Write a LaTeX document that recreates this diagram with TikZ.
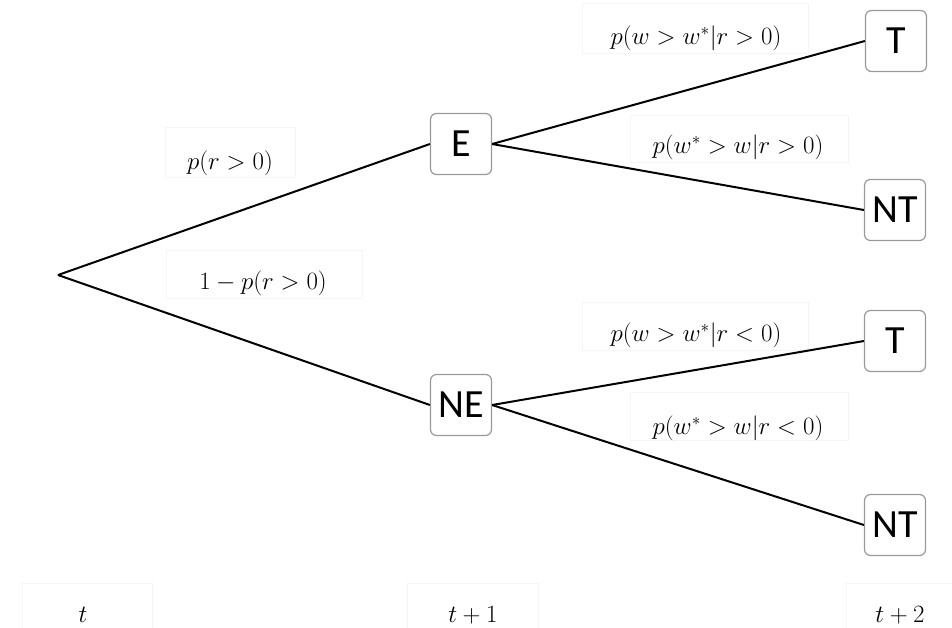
\documentclass[tikz,border=0pt]{standalone}
\usepackage{fontspec}
\newfontfamily\boxfont{Carlito}
\begin{document}
\begin{tikzpicture}[x=1pt,y=-1pt,
  state/.style={draw=black!40,line width=1.2pt,rounded corners=6pt,fill=white,
    minimum width=61pt,minimum height=61pt,inner sep=0pt,
    font=\boxfont\fontsize{40}{44}\selectfont},
  branch/.style={line width=2pt,black},
  lbl/.style={inner sep=0pt,font=\fontsize{23.5}{28}\selectfont},
  faint/.style={draw=black!4,line width=0.8pt}]
\useasboundingbox (0,0) rectangle (952,627);
% faint label frames
\draw[faint] (165,127) rectangle (295,177);
\draw[faint] (166,250) rectangle (362,298);
\draw[faint] (582,3) rectangle (808,53);
\draw[faint] (630,115) rectangle (848,162);
\draw[faint] (582,302) rectangle (808,350);
\draw[faint] (630,392) rectangle (848,440);
\draw[faint] (22,583) rectangle (152,640);
\draw[faint] (407,583) rectangle (538,640);
\draw[faint] (846,583) rectangle (960,640);
% nodes
\coordinate (root) at (58,275);
\node[state] (E) at (461,144) {E};
\node[state] (NE) at (461,405) {NE};
\node[state] (T1) at (896,41) {T};
\node[state] (NT1) at (895,210) {NT};
\node[state] (T2) at (895,341) {T};
\node[state] (NT2) at (895,525) {NT};
% branches
\draw[branch] (root) -- (E.west);
\draw[branch] (root) -- (NE.west);
\draw[branch] (E.east) -- (T1.west);
\draw[branch] (E.east) -- (NT1.west);
\draw[branch] (NE.east) -- (T2.west);
\draw[branch] (NE.east) -- (NT2.west);
% labels
\node[lbl] (l1) at (230,163) {$p(r>0)$};
\node[lbl] (l2) at (263,283) {$1-p(r>0)$};
\node[lbl] (l3) at (696,38) {$p(w>w^{*}|r>0)$};
\node[lbl] (l4) at (738,147) {$p(w^{*}>w|r>0)$};
\node[lbl] (l5) at (696,335) {$p(w>w^{*}|r<0)$};
\node[lbl] (l6) at (738,428) {$p(w^{*}>w|r<0)$};
\node[lbl] (t0) at (83,615) {$t$};
\node[lbl] (t1) at (473,615) {$t+1$};
\node[lbl] (t2) at (900,615) {$t+2$};
\end{tikzpicture}
\end{document}
